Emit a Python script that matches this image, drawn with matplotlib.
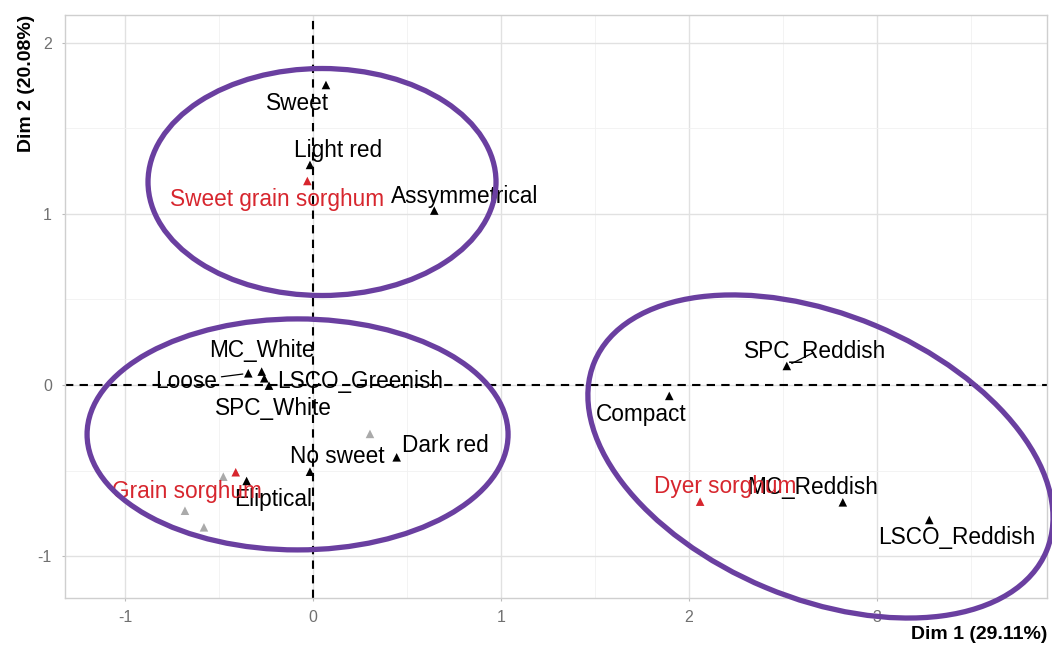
import matplotlib
matplotlib.use('Agg')
import matplotlib.pyplot as plt
from matplotlib.patches import Ellipse
from matplotlib.transforms import ScaledTranslation

plt.rcParams['font.family'] = ['Liberation Sans', 'DejaVu Sans']
plt.rcParams['axes.unicode_minus'] = False

# ---- data: variable categories (black triangles) ----
cat_labels = ["Sweet", "Light red", "Assymmetrical", "MC_White", "Loose",
              "LSCO_Greenish", "SPC_White", "No sweet", "Dark red", "Eliptical",
              "SPC_Reddish", "Compact", "MC_Reddish", "LSCO_Reddish"]
cat_dim1 = [0.069, -0.016, 0.645, -0.273, -0.344, -0.259, -0.234, -0.016,
            0.445, -0.353, 2.520, 1.895, 2.818, 3.278]
cat_dim2 = [1.753, 1.286, 1.019, 0.078, 0.068, 0.039, -0.004, -0.507,
            -0.423, -0.561, 0.111, -0.064, -0.686, -0.789]

# ---- supplementary groups (red triangles) ----
grp_labels = ["Sweet grain sorghum", "Grain sorghum", "Dyer sorghum"]
grp_dim1 = [-0.030, -0.411, 2.059]
grp_dim2 = [1.192, -0.510, -0.682]

# ---- unlabelled points (grey triangles) ----
ind_dim1 = [0.303, -0.477, -0.681, -0.580]
ind_dim2 = [-0.286, -0.536, -0.735, -0.832]

x_ticks = [-1, 0, 1, 2, 3]
y_ticks = [-1, 0, 1, 2]
x_title = "Dim 1 (29.11%)"
y_title = "Dim 2 (20.08%)"

# ---- layout / style (label offsets in pixels, image-style: +y is down) ----
cat_offsets = [(-28, 19), (28, -14), (30, -14), (0, -21), (-62, 8),
               (96, 3), (4, 23), (27, -15), (49, -12), (27, 19),
               (28, -14), (-28, 19), (-30, -15), (27, 18)]
cat_segment = ["Loose", "SPC_Reddish"]
grp_offsets = [(-30, 19), (-49, 19), (25, -15)]

# group ellipses: centre (data), width/height (pixels), angle (deg)
ell_cx = [0.048, -0.082, 2.699]
ell_cy = [1.186, -0.289, -0.418]
ell_w = [348, 421, 490]
ell_h = [227, 231, 284]
ell_ang = [0, 0, -22.7]

W, H = 1052, 646
fig = plt.figure(figsize=(W / 100, H / 100), dpi=100)
ax = fig.add_axes([65 / W, 48 / H, 982 / W, 583 / H])

ax.set_xlim(-1.319, 3.904)
ax.set_ylim(-1.245, 2.162)
ax.set_xticks(x_ticks)
ax.set_yticks(y_ticks)
ax.set_xticks([t + 0.5 for t in x_ticks[:-1]] + [x_ticks[-1] + 0.5], minor=True)
ax.set_yticks([t + 0.5 for t in y_ticks[:-1]], minor=True)
ax.grid(which='major', color='#E1E1E1', linewidth=1.0, zorder=0)
ax.grid(which='minor', color='#F1F1F1', linewidth=0.6, zorder=0)
ax.set_axisbelow(True)
for sp in ax.spines.values():
    sp.set_color('#CFCFCF')
    sp.set_linewidth(1.0)
ax.tick_params(which='major', length=2.5, color='#BBBBBB', labelsize=11.5,
               labelcolor='#707070', pad=7)
ax.tick_params(axis='x', which='major', pad=6)
ax.tick_params(which='minor', length=0)

ax.axhline(0, color='black', linestyle=(0, (4, 3)), linewidth=1.5, zorder=2)
ax.axvline(0, color='black', linestyle=(0, (4, 3)), linewidth=1.5, zorder=2)

ax.scatter(ind_dim1, ind_dim2, marker='^', s=38, color='#AAAAAA',
           edgecolors='none', zorder=3)
ax.scatter(cat_dim1, cat_dim2, marker='^', s=38, color='black',
           edgecolors='none', zorder=4)
ax.scatter(grp_dim1, grp_dim2, marker='^', s=38, color='#D7262E',
           edgecolors='none', zorder=4)

for lab, x, y, (dx, dy) in zip(cat_labels, cat_dim1, cat_dim2, cat_offsets):
    kw = {}
    if lab in cat_segment:
        kw['arrowprops'] = dict(arrowstyle='-', color='black', lw=0.9,
                                shrinkA=1, shrinkB=4)
    ax.annotate(lab, (x, y), xytext=(dx, -dy), textcoords='offset pixels',
                ha='center', va='center', fontsize=16.3, color='black',
                zorder=5, **kw)

for lab, x, y, (dx, dy) in zip(grp_labels, grp_dim1, grp_dim2, grp_offsets):
    ax.annotate(lab, (x, y), xytext=(dx, -dy), textcoords='offset pixels',
                ha='center', va='center', fontsize=16.3, color='#D7262E',
                zorder=5)

for cx, cy, w, h, a in zip(ell_cx, ell_cy, ell_w, ell_h, ell_ang):
    tr = fig.dpi_scale_trans + ScaledTranslation(cx, cy, ax.transData)
    e = Ellipse((0, 0), width=w / 100, height=h / 100, angle=a,
                fill=False, edgecolor='#6A3FA0', linewidth=3.8,
                transform=tr, clip_on=False, zorder=6)
    fig.add_artist(e)

ax.set_xlabel(x_title, loc='right', fontsize=14, fontweight='bold',
              labelpad=1)
ax.set_ylabel(y_title, loc='top', fontsize=14, fontweight='bold',
              labelpad=2)

fig.savefig('out.png', dpi=100)
